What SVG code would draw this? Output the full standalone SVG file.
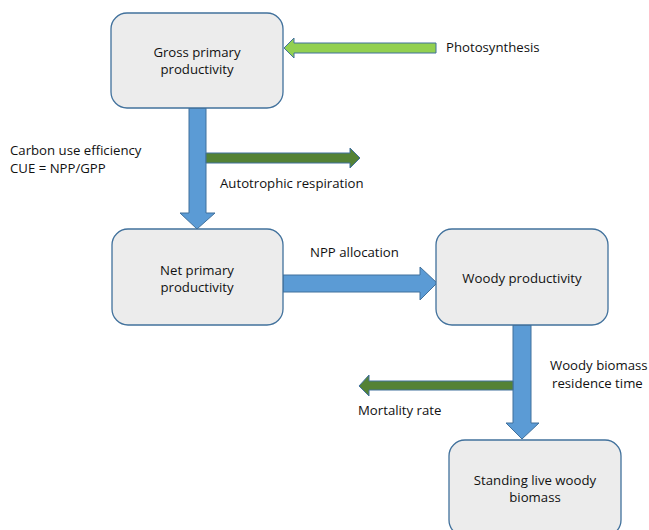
<svg xmlns="http://www.w3.org/2000/svg" width="649" height="530" viewBox="0 0 649 530">
<style>
.box{fill:#ececec;stroke:#41719c;stroke-width:1.3}
.blue{fill:#5b9bd5;stroke:#41719c;stroke-width:1}
.lg{fill:#92d050;stroke:#41719c;stroke-width:1}
.dg{fill:#548235;stroke:#41719c;stroke-width:1}
text{font-family:"Open Sans","Liberation Sans",sans-serif;font-size:13.2px;fill:#111111}
.c{text-anchor:middle}
</style>
<rect width="649" height="530" fill="#ffffff"/>
<g id="connectors">
<polygon class="lg" points="436,43 294,43 294,38 284,48 294,58 294,53 436,53"/>
<polygon class="blue" points="189,108 206,108 206,213 215,213 197,229 180,213 189,213"/>
<polygon class="dg" points="206,153 350,153 350,148 360,158 350,168 350,163 206,163"/>
<polygon class="blue" points="283,275 420,275 420,267 437,283 420,300 420,292 283,292"/>
<polygon class="blue" points="513,325 531,325 531,423 539,423 522,439 506,423 513,423"/>
<polygon class="dg" points="513,381 369,381 369,375 359,386 369,396 369,390 513,390"/>
</g>
<g id="gpp">
<rect class="box" x="111" y="13" width="172" height="95" rx="16"/>
<text class="c" x="197" y="57">Gross primary</text>
<text class="c" x="197" y="74">productivity</text>
</g>
<g id="npp">
<rect class="box" x="112" y="229" width="171" height="96" rx="16"/>
<text class="c" x="197" y="275">Net primary</text>
<text class="c" x="197" y="292">productivity</text>
</g>
<g id="woody">
<rect class="box" x="436" y="229" width="172" height="96" rx="16"/>
<text class="c" x="522" y="283">Woody productivity</text>
</g>
<g id="standing">
<rect class="box" x="449" y="440" width="172" height="96" rx="16"/>
<text class="c" x="535" y="485">Standing live woody</text>
<text class="c" x="535" y="502">biomass</text>
</g>
<g id="labels">
<text x="446" y="52">Photosynthesis</text>
<text x="10" y="155">Carbon use efficiency</text>
<text x="10" y="173">CUE = NPP/GPP</text>
<text x="220" y="188">Autotrophic respiration</text>
<text x="310" y="257">NPP allocation</text>
<text x="550" y="370">Woody biomass</text>
<text x="552" y="388">residence time</text>
<text x="358" y="415">Mortality rate</text>
</g>
</svg>
